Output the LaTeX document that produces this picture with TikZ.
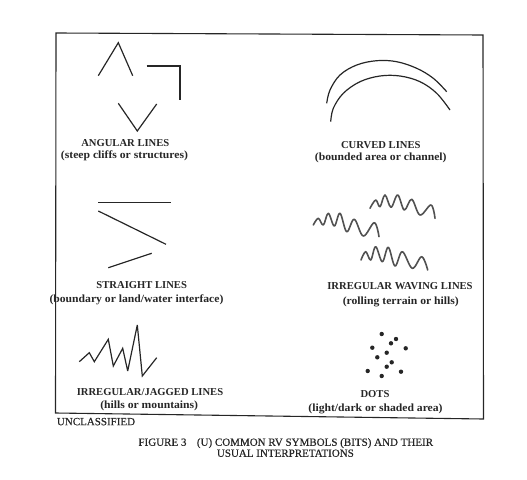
\documentclass[tikz,border=0pt]{standalone}
\usepackage{fontspec}
\setmainfont{Liberation Serif}
\newfontfamily\subfnt{Liberation Serif}[FakeStretch=1.06]
\newfontfamily\capfnt{Liberation Serif}[FakeBold=0.4]
\definecolor{inkc}{RGB}{38,38,38}
\begin{document}
\begin{tikzpicture}[x=1pt,y=-1pt,
  lbl/.style={font=\bfseries\fontsize{10.6}{12}\selectfont, anchor=base, inner sep=0pt, text=inkc},
  sub/.style={font=\subfnt\bfseries\fontsize{11}{12}\selectfont, anchor=base, inner sep=0pt, text=inkc},
  captxt/.style={font=\capfnt\fontsize{11}{12}\selectfont, anchor=base west, inner sep=0pt, text=inkc},
  ink/.style={line width=1.2pt, draw=inkc, miter limit=4},
  wave/.style={line width=1.6pt, draw=inkc!80, line cap=round, line join=round},
  dotm/.style={fill=inkc, draw=none}]
\useasboundingbox (0,0) rectangle (527,479);
% frame
\draw[ink, line width=1.1pt] (56,33) -- (483,35) -- (483.5,419) -- (55.5,413) -- cycle;

% angular lines
\draw[ink] (98.3,75.7) -- (118.3,42.7) -- (132.7,75.7);
\draw[ink] (146.7,66) -- (180,66) -- (180,100);
\draw[ink] (118.3,103.3) -- (137.3,131) -- (156.7,104);
\node[lbl] (angT) at (125.3,146.8) {ANGULAR LINES};
\node[sub] (angS) at (124.5,158.5) {(steep cliffs or structures)};

% curved lines
\draw[ink] plot[smooth, tension=0.6] coordinates {(326.7,103.3) (330,90) (340,75) (356.7,65) (376.7,60.7) (396.7,61.7) (416.7,68.3) (433.3,78.3) (446.7,91.7)};
\draw[ink] plot[smooth, tension=0.6] coordinates {(330.7,121.7) (333.3,108.3) (343.3,93.3) (360,81.7) (380,76) (400,76) (420,81.7) (436.7,93.3) (450,110)};
\node[lbl] (curT) at (380.8,148.5) {CURVED LINES};
\node[sub] (curS) at (380.8,160.8) {(bounded area or channel)};

% straight lines
\draw[ink] (98.3,202.3) -- (170.7,202.3);
\draw[ink] (98.3,211) -- (166,244.3);
\draw[ink] (108.3,267.7) -- (151.7,253.3);
\node[lbl] (strT) at (141.7,288) {STRAIGHT LINES};
\node[sub] (strS) at (136.5,302) {(boundary or land/water interface)};

% waving lines
\draw[wave] plot[smooth, tension=0.6] coordinates {(370,208.3) (375.7,200) (380,206.7) (385,195) (391,207.3) (397.7,195) (404.3,210) (411.7,199.3) (420,215) (431,205) (435,218.3)};
\draw[wave] plot[smooth, tension=0.6] coordinates {(313.3,225) (318.3,218.3) (323.3,225) (328.3,213.3) (334.3,226) (340,213.3) (346.7,231.7) (354.3,219.3) (363.3,236) (374.3,222.7) (379,236.7)};
\draw[wave] plot[smooth, tension=0.6] coordinates {(361,260) (365.7,251.7) (370.7,260) (375.7,246.7) (382.3,261.7) (388.3,247.3) (395,266) (402.3,251.7) (412.3,268.3) (421.7,256.7) (427.7,270)};
\node[lbl] (wavT) at (400,289.5) {IRREGULAR WAVING LINES};
\node[sub] (wavS) at (400.8,304) {(rolling terrain or hills)};

% jagged lines
\draw[ink] (79.3,361.7) -- (89.3,352.7) -- (94.3,361.7) -- (108.3,339.3) -- (113.3,366) -- (122.7,348.3) -- (127.7,371) -- (137.3,325) -- (142.3,376) -- (156.7,357.7);
\node[lbl] (jagT) at (150,395.2) {IRREGULAR/JAGGED LINES};
\node[sub] (jagS) at (149.2,408.5) {(hills or mountains)};

% dots
\foreach \p in {(381.7,334),(396,339),(391,343.3),(372.3,347.7),(405.7,348.3),(386.7,352.7),(377.3,357.3),(391.7,362.3),(386.7,366.7),(367.7,371),(401,371.7),(381.7,376)}
  \fill[dotm] \p circle (2.2);
\node[lbl] (dotT) at (375,397.5) {DOTS};
\node[sub] (dotS) at (375.5,411) {(light/dark or shaded area)};

% caption
\node[captxt] (uncl) at (56.7,425.2) {UNCLASSIFIED};
\node[captxt] (fig) at (138.3,445.8) {FIGURE 3};
\node[captxt] (cap1) at (196.7,445.8) {(U) COMMON RV SYMBOLS (BITS) AND THEIR};
\node[captxt] (cap2) at (216.7,456.8) {USUAL INTERPRETATIONS};
\end{tikzpicture}
\end{document}
